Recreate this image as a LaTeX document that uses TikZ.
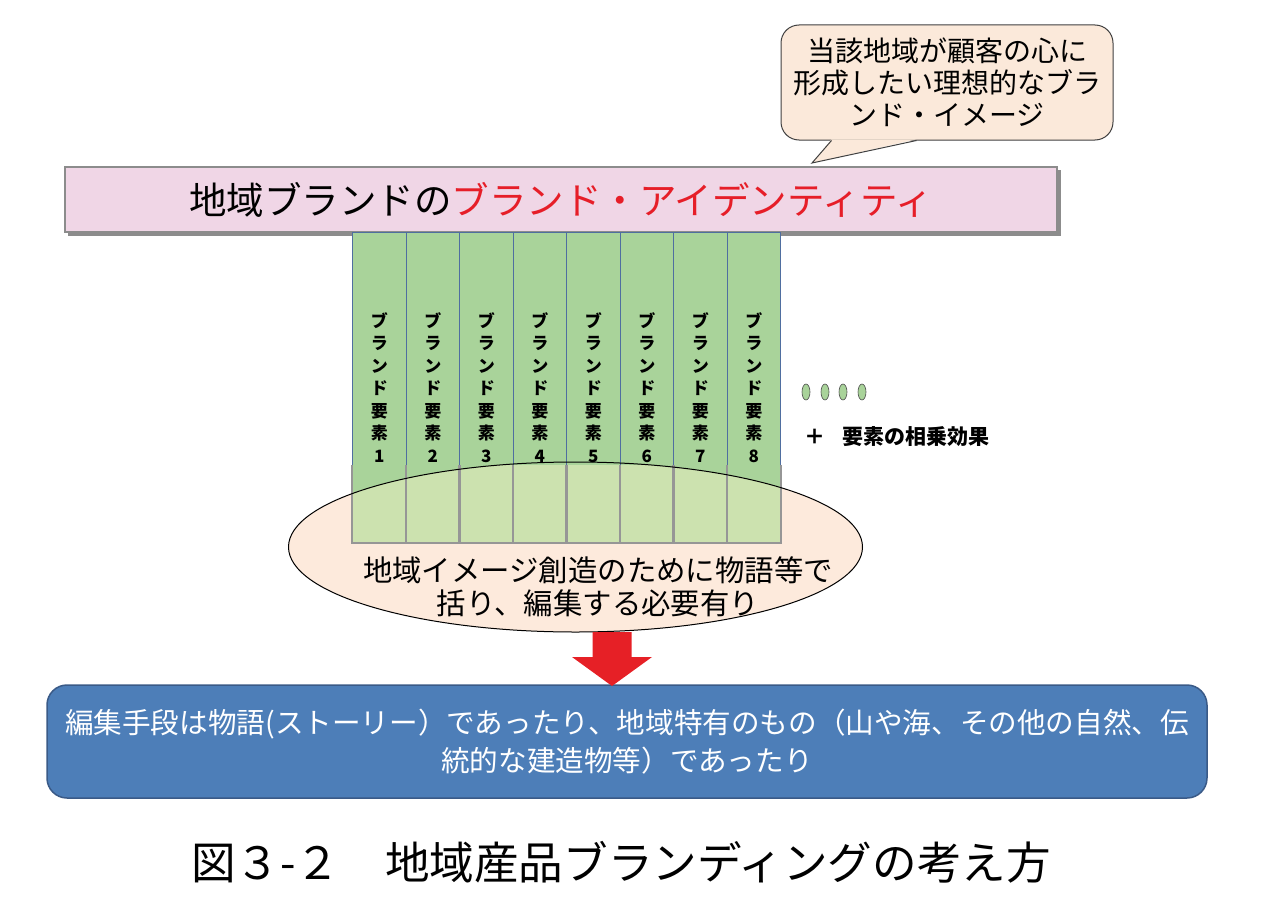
\documentclass[tikz,border=0pt]{standalone}
\usepackage{fontspec}
\setmainfont{Noto Sans CJK JP}
\usetikzlibrary{shapes.geometric,calc}
\definecolor{titlepink}{RGB}{240,214,230}
\definecolor{titleedge}{RGB}{140,140,140}
\definecolor{calloutfill}{RGB}{251,233,218}
\definecolor{colgreen}{RGB}{169,211,154}
\definecolor{colgreenlight}{RGB}{204,226,175}
\definecolor{coledge}{RGB}{79,110,160}
\definecolor{lowedge}{RGB}{150,150,150}
\definecolor{ellfill}{RGB}{253,234,220}
\definecolor{arrowred}{RGB}{230,32,38}
\definecolor{boxblue}{RGB}{77,126,184}
\definecolor{boxedge}{RGB}{58,90,135}
\definecolor{titlered}{RGB}{230,30,40}
\tikzset{
  colbox/.style={draw=coledge, line width=1pt, fill=colgreen, minimum width=53.5pt, minimum height=310pt, inner sep=0pt, anchor=north west, align=center, font=\fontsize{17}{22.5}\selectfont\bfseries},
  dotnode/.style={ellipse, draw=black!70, line width=0.6pt, fill=colgreen, minimum width=8pt, minimum height=16pt, inner sep=0pt},
}
\begin{document}
\begin{tikzpicture}[x=1pt,y=-1pt]
\useasboundingbox (0,0) rectangle (1263,907);
% callout
\node[draw=black!75, line width=1pt, fill=calloutfill, rounded corners=18pt, minimum width=332pt, minimum height=115pt, align=center, inner sep=0pt, font=\fontsize{28}{32}\selectfont] (callout) at (947,82.5) {当該地域が顧客の心に\\形成したい理想的なブラ\\ンド・イメージ};
\coordinate (tailA) at ($(callout.south west)+(51,0)$);
\coordinate (tailB) at ($(callout.south west)+(136,0)$);
\coordinate (tailTip) at (812,163);
\fill[calloutfill] ($(tailA)+(0,-1.2)$) -- (tailTip) -- ($(tailB)+(0,-1.2)$) -- cycle;
\draw[black!75, line width=1pt] (tailA) -- (tailTip) -- (tailB);
% title bar
\fill[black!45] (68,170) rectangle (1061,236);
\node[draw=titleedge, line width=2pt, fill=titlepink, minimum width=992pt, minimum height=65pt, inner sep=0pt, font=\fontsize{37.5}{40}\selectfont] (title) at (561,199.5) {地域ブランドの\textcolor{titlered}{ブランド・アイデンティティ}};
% ellipse fill
\node[ellipse, fill=ellfill, minimum width=574pt, minimum height=170pt, inner sep=0pt] (ell) at (575.5,547) {};
% columns
\foreach \i in {1,...,8}{
  \node[colbox] (col\i) at ({352+(\i-1)*53.5},232) {ブ\\ラ\\ン\\ド\\要\\素\\\i};
}
% lower parts of columns overlapping the ellipse
\foreach \i in {1,...,8}{
  \fill[colgreen] ($(col\i.south west)+(0,-78)$) rectangle (col\i.south east);
}
\begin{scope}
  \clip (ell.center) ellipse [x radius=287, y radius=85];
  \foreach \i in {1,...,8}{
    \fill[colgreenlight] ($(col\i.south west)+(0,-78)$) rectangle (col\i.south east);
  }
\end{scope}
\foreach \i in {1,...,8}{
  \draw[lowedge, line width=1.2pt] ($(col\i.south west)+(0,-78)$) -- (col\i.south west) -- (col\i.south east) -- ($(col\i.south east)+(0,-78)$);
}
\draw[black, line width=1pt] (ell.center) ellipse [x radius=287, y radius=85];
\node[align=center, inner sep=0pt, font=\fontsize{29.4}{33}\selectfont] (elltext) at (598,587) {地域イメージ創造のために物語等で\\括り、編集する必要有り};
% dots and synergy
\node[dotnode] (d1) at (806,392) {};
\node[dotnode] (d2) at (825,392) {};
\node[dotnode] (d3) at (843,392) {};
\node[dotnode] (d4) at (862,392) {};
\node[anchor=west, inner sep=0pt, font=\fontsize{21}{24}\selectfont\bfseries] (syn) at (804,437) {＋\hspace{17pt}要素の相乗効果};
% blue box
\node[draw=boxedge, line width=1.5pt, fill=boxblue, rounded corners=20pt, minimum width=1160pt, minimum height=113pt, inner sep=0pt, align=center, text=white, font=\fontsize{28.6}{38}\selectfont] (box) at (627,741.5) {編集手段は物語(ストーリー）であったり、地域特有のもの（山や海、その他の自然、伝\\統的な建造物等）であったり};
% red arrow from ellipse to box
\coordinate (aTop) at (612,632);
\coordinate (aTip) at (612,686);
\fill[arrowred] ($(aTop)+(-19.5,0)$) -- ($(aTop)+(19.5,0)$) -- ($(aTip)+(19.5,-29)$) -- ($(aTip)+(40,-29)$) -- (aTip) -- ($(aTip)+(-40,-29)$) -- ($(aTip)+(-19.5,-29)$) -- cycle;
% caption
\node[inner sep=0pt, font=\fontsize{44.6}{48}\selectfont] (caption) at (621,862) {図３-２　地域産品ブランディングの考え方};
\end{tikzpicture}
\end{document}
